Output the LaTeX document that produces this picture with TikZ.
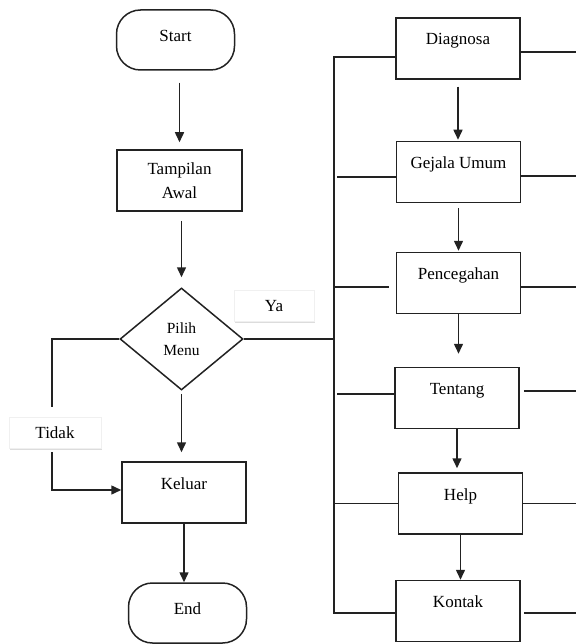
\documentclass[tikz,border=0pt]{standalone}
\usepackage{fontspec}
\setmainfont{Liberation Serif}
\usetikzlibrary{shapes.geometric,arrows.meta,shadows}
\definecolor{linec}{HTML}{222222}
\begin{document}
\begin{tikzpicture}[x=1pt,y=-1pt,
  base/.style={draw=linec, line width=1.5pt, font=\fontsize{17}{24}\selectfont, text=black},
  proc/.style={base, rectangle, minimum width=124pt, inner xsep=0pt, inner ysep=0pt, text height=27pt, text depth=34pt},
  term/.style={base, rectangle, rounded corners=24pt, minimum width=118pt, inner xsep=0pt, inner ysep=0pt, text height=32pt, text depth=28pt},
  decision/.style={base, diamond, minimum width=123pt, minimum height=102pt, inner sep=0pt, align=center, font=\fontsize{15.5}{22}\selectfont},
  tag/.style={rectangle, fill=white, draw=gray!12, line width=0.6pt, minimum height=31pt, font=\fontsize{17}{22}\selectfont,
    drop shadow={shadow xshift=1.2pt, shadow yshift=-1.5pt, fill=gray!60, opacity=0.45}},
  line/.style={draw=linec, line width=1.5pt},
  arr/.style={line, -{Triangle[length=10pt,width=9pt]}}]
\useasboundingbox (0,0) rectangle (576,644);

% left column
\node[term] (start) at (175.5,40) {Start};
\node[base, rectangle, minimum width=125pt, minimum height=61pt, inner sep=0pt, align=center] (tampilan) at (179.5,180.5) {Tampilan\\Awal};
\node[decision] (menu) at (181.5,339) {Pilih\\Menu};
\node[proc] (keluar) at (184,492.5) {Keluar};
\node[term, text height=31pt, text depth=29pt] (end) at (187.5,613) {End};

\node[tag, minimum width=80pt] (ya) at (274,306) {Ya};
\node[tag, minimum width=92pt] (tidak) at (55,432.5) {Tidak};

% right column
\node[proc] (diagnosa) at (458,48.5) {Diagnosa};
\node[proc] (gejala) at (458.5,172) {Gejala Umum};
\node[proc] (pencegahan) at (458.5,283) {Pencegahan};
\node[proc] (tentang) at (457,398) {Tentang};
\node[proc] (help) at (460.5,503.5) {Help};
\node[proc] (kontak) at (458,611) {Kontak};

\coordinate (trunk) at (334,57);
\coordinate (redge) at (576,0);

% main flow
\draw[arr, shorten <=12pt, shorten >=7pt] (start.south -| tampilan) -- (tampilan.north);
\draw[arr, shorten <=9pt, shorten >=10pt] (tampilan.south -| menu) -- (menu.north);
\draw[arr, shorten <=3pt, shorten >=9pt] (menu.south) -- (menu.south |- keluar.north);
\draw[arr] (keluar.south) -- (keluar.south |- end.north);

% Tidak branch
\draw[line] (menu.west) -| ([xshift=-3pt,yshift=10pt]tidak.north);
\draw[arr] ([xshift=-3pt,yshift=-4pt]tidak.south) |- ([yshift=2.5pt]keluar.west);

% Ya branch
\draw[line] (menu.east) -- (menu.east -| trunk);

% trunk
\draw[line] ([yshift=-8.5pt]diagnosa.west) -| ([yshift=-2pt]kontak.west -| trunk) -- ([yshift=-2pt]kontak.west);
\draw[line] ([yshift=-5pt]gejala.west) -- ([xshift=3pt,yshift=-5pt]gejala.west -| trunk);
\draw[line] ([xshift=-7pt,yshift=-4pt]pencegahan.west) -- ([yshift=-4pt]pencegahan.west -| trunk);
\draw[line] ([yshift=4pt]tentang.west) -- ([xshift=3pt,yshift=4pt]tentang.west -| trunk);
\draw[line] (help.west) -- (help.west -| trunk);

% right stubs
\draw[line] ([yshift=-3.5pt]diagnosa.east) -- ([yshift=-3.5pt]diagnosa.east -| redge);
\draw[line] ([yshift=-4pt]gejala.east) -- ([yshift=-4pt]gejala.east -| redge);
\draw[line] ([yshift=-4pt]pencegahan.east) -- ([yshift=-4pt]pencegahan.east -| redge);
\draw[line] ([xshift=4pt,yshift=7pt]tentang.east) -- ([yshift=7pt]tentang.east -| redge);
\draw[line] (help.east) -- (help.east -| redge);
\draw[line] ([xshift=3pt,yshift=-2pt]kontak.east) -- ([yshift=-2pt]kontak.east -| redge);

% right column flow
\draw[arr, shorten <=7pt, shorten >=1pt] (diagnosa.south) -- (diagnosa.south |- gejala.north);
\draw[arr, shorten <=5pt, shorten >=1pt] (gejala.south) -- (gejala.south |- pencegahan.north);
\draw[arr, shorten >=13pt] (pencegahan.south) -- (pencegahan.south |- tentang.north);
\draw[arr, shorten >=4pt] (tentang.south) -- (tentang.south |- help.north);
\draw[arr] (help.south) -- (help.south |- kontak.north);
\end{tikzpicture}
\end{document}
